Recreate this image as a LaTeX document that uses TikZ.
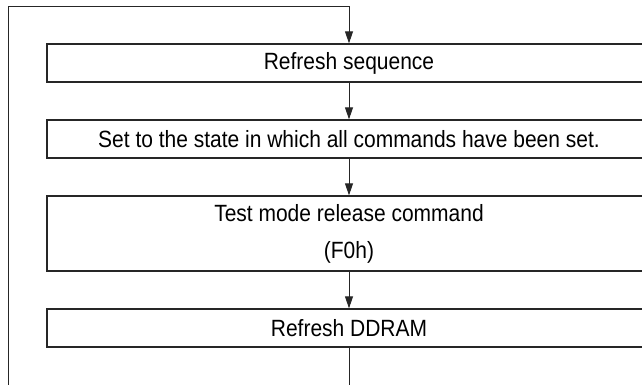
\documentclass[tikz,border=0pt]{standalone}
\usepackage{fontspec}
\setmainfont{Liberation Sans}[FakeStretch=0.893]
\usetikzlibrary{arrows.meta}
\tikzset{
  procbox/.style={draw=black!85, line width=1.3pt, minimum width=604pt, minimum height=38pt,
    inner sep=0pt, align=center, font=\fontsize{23.5}{37}\selectfont},
  flow/.style={draw=black!85, line width=1pt, -{Triangle[length=12pt,width=8pt]}},
  plain/.style={draw=black!85, line width=1pt}
}
\begin{document}
\begin{tikzpicture}[x=1pt,y=1pt]
\useasboundingbox (0,0) rectangle (642,-384);
\clip (0,0) rectangle (642,-384);
\node[procbox] (b1) at (349,-63) {Refresh sequence};
\node[procbox] (b2) at (349,-139) {Set to the state in which all commands have been set.};
\node[procbox, minimum height=75pt] (b3) at (349,-233.5) {Test mode release command\\(F0h)};
\node[procbox] (b4) at (349,-328) {Refresh DDRAM};
\coordinate (loopbot) at (349,-420);
\coordinate (looptop) at (8.5,-6.5);
\draw[flow] (b1.south) -- (b2.north);
\draw[flow] (b2.south) -- (b3.north);
\draw[flow] (b3.south) -- (b4.north);
\draw[flow] (b4.south) -- (loopbot) -| (looptop) -| (b1.north);
\end{tikzpicture}
\end{document}
